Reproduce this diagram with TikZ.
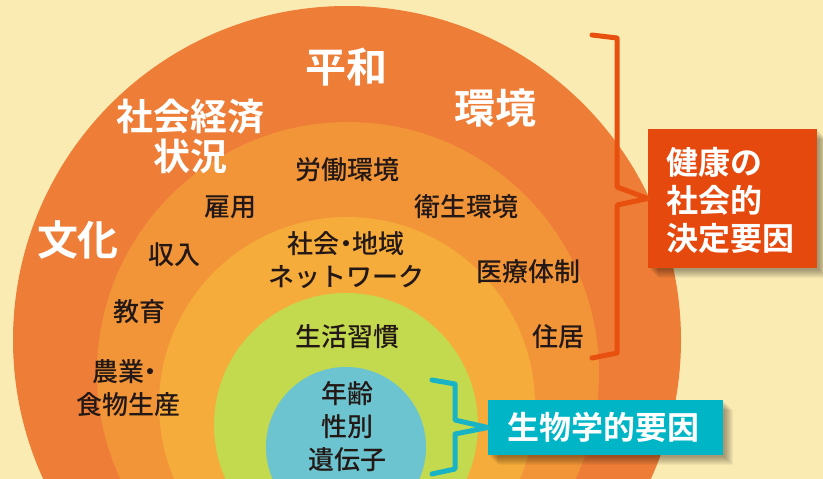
\documentclass[tikz,border=0pt]{standalone}
\usepackage{fontspec}
\setmainfont{Noto Sans CJK JP}[BoldFont={Noto Sans CJK JP Bold}]
\newfontfamily\jpmed{Noto Sans CJK JP Medium}
\definecolor{bg}{HTML}{FAEBB3}
\definecolor{cA}{HTML}{EE7D37}
\definecolor{cB}{HTML}{F19538}
\definecolor{cC}{HTML}{F5AC3B}
\definecolor{cD}{HTML}{C3D94E}
\definecolor{cE}{HTML}{6BC4CF}
\definecolor{redbox}{HTML}{E6490D}
\definecolor{cyanbox}{HTML}{00B6C6}
\definecolor{redline}{HTML}{E8500F}
\definecolor{cyanline}{HTML}{18B4C6}
\definecolor{textdark}{HTML}{231815}
\newcommand{\mydot}{\hspace{-0.25em}・\hspace{-0.25em}}
\begin{document}
\begin{tikzpicture}[x=1pt,y=-1pt,
  darktxt/.style={text=textdark, font=\jpmed\fontsize{26}{33}\selectfont, align=center, inner sep=0pt},
  bigtxt/.style={text=white, font=\bfseries\fontsize{41}{44}\selectfont, align=center, inner sep=0pt},
  midtxt/.style={text=white, font=\bfseries\fontsize{37}{40}\selectfont, align=center, inner sep=0pt},
  boxtxt/.style={text=white, font=\bfseries\fontsize{32}{38}\selectfont, inner sep=0pt},
  bracketline/.style={line width=5pt, line cap=round, line join=round}]
\useasboundingbox (0,0) rectangle (823,479);
\fill[bg] (0,0) rectangle (823,479);
\begin{scope}
  \clip (0,0) rectangle (823,479);
  \fill[cA] (347,340) circle[radius=334pt];
  \fill[cB] (348,373) circle[radius=251pt];
  \fill[cC] (347,405) circle[radius=188pt];
  \fill[cD] (346,425) circle[radius=132pt];
  \fill[cE] (346,447) circle[radius=80pt];
  % shadows of boxes
  \foreach \k in {2,...,10} {
    \fill[black, opacity=0.045] (648+\k,129+\k) rectangle (817+\k,268+\k);
    \fill[black, opacity=0.045] (488+\k,400+\k) rectangle (723+\k,455+\k);
  }
\end{scope}
% outer ring labels
\node[bigtxt] (heiwa) at (346,67) {平和};
\node[bigtxt] (kankyo) at (495,108) {環境};
\node[bigtxt] (bunka) at (78,240) {文化};
\node[midtxt] (shakai) at (190,136) {社会経済\\状況};
% second ring
\node[darktxt] (rodo) at (347,170) {労働環境};
\node[darktxt] (koyo) at (230,207) {雇用};
\node[darktxt] (eisei) at (466,207) {衛生環境};
\node[darktxt] (shunyu) at (174,255) {収入};
\node[darktxt] (iryo) at (528,272) {医療体制};
\node[darktxt] (kyoiku) at (139,312) {教育};
\node[darktxt] (jukyo) at (558,337) {住居};
\node[darktxt] (nogyo) at (128,388) {農業\mydot\\食物生産};
% third ring
\node[darktxt] (network) at (346,260) {社会\mydot 地域\\ネットワーク};
% green
\node[darktxt] (seikatsu) at (347,337) {生活習慣};
% blue
\node[darktxt] (bio) at (347,427) {年齢\\性別\\遺伝子};
% boxes
\node[fill=redbox, minimum width=169pt, minimum height=139pt, inner sep=0pt] (sdh) at (732.5,198.5) {};
\node[boxtxt, anchor=west, align=left] (sdhtxt) at (666,200) {健康の\\社会的\\決定要因};
\node[fill=cyanbox, minimum width=235pt, minimum height=55pt, inner sep=0pt] (biobox) at (605.5,427.5) {};
\node[boxtxt] (biotxt) at (603,427) {生物学的要因};
% brackets
\coordinate (r1) at (592,35);
\coordinate (r2) at (617,38);
\coordinate (r3) at (617,187);
\coordinate (r5) at (617,205);
\coordinate (r6) at (617,353);
\coordinate (r7) at (592,358);
\draw[redline, bracketline] (r1) -- (r2) -- (r3) -- (sdh.west) -- (r5) -- (r6) -- (r7);
\coordinate (b1) at (432,380);
\coordinate (b2) at (455,384);
\coordinate (b3) at (455,420);
\coordinate (b5) at (455,434);
\coordinate (b6) at (455,469);
\coordinate (b7) at (432,474);
\draw[cyanline, bracketline] (b1) -- (b2) -- (b3) -- (biobox.west) -- (b5) -- (b6) -- (b7);
\end{tikzpicture}
\end{document}
